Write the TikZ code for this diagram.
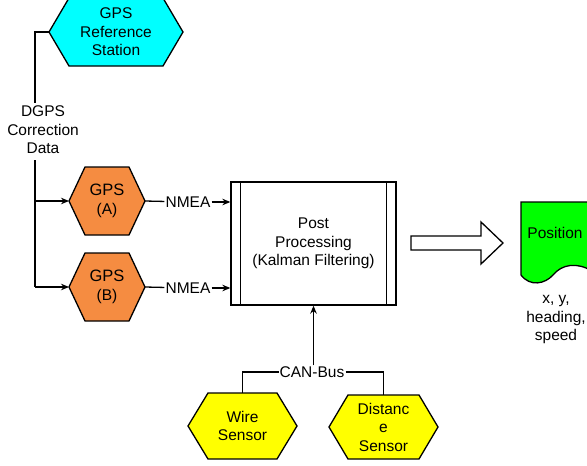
\documentclass[tikz,border=0pt]{standalone}
\usepackage{fontspec}
\setmainfont{Liberation Sans}
\usetikzlibrary{arrows.meta}
\definecolor{hexcyan}{RGB}{0,255,255}
\definecolor{hexorange}{RGB}{245,140,65}
\definecolor{hexyellow}{RGB}{255,255,0}
\definecolor{docgreen}{RGB}{0,255,0}
\tikzset{
  ln/.style={line width=1.3pt, line join=miter},
  arr/.style={ln, -{Stealth[length=8pt,width=6.5pt]}},
  txt/.style={font=\fontsize{15.5}{18.5}\selectfont, align=center, inner sep=1pt},
}
\newcommand{\hexbox}[8]{%
  \filldraw[ln, fill=#7] (#2-#4,#3) -- (#2-#4+#6,#3-#5) -- (#2+#4-#6,#3-#5) -- (#2+#4,#3)
     -- (#2+#4-#6,#3+#5) -- (#2-#4+#6,#3+#5) -- cycle;
  \node[txt] (#1) at (#2,#3) {#8};
  \coordinate (#1-l) at (#2-#4,#3);
  \coordinate (#1-r) at (#2+#4,#3);
  \coordinate (#1-t) at (#2,#3-#5);
}
\begin{document}
\begin{tikzpicture}[x=1pt,y=-1pt]
\useasboundingbox (0,0) rectangle (587,466);
% hexagons
\hexbox{ref}{116}{32}{67}{34}{20}{hexcyan}{GPS\\Reference\\Station}
\hexbox{gpsA}{107}{201}{38}{34}{16}{hexorange}{{\fontsize{16.5}{20}\selectfont GPS}\\(A)}
\hexbox{gpsB}{107}{287}{38}{34}{16}{hexorange}{{\fontsize{16.5}{20}\selectfont GPS}\\(B)}
\hexbox{wire}{242.5}{426}{54.5}{33}{20}{hexyellow}{Wire\\Sensor}
\hexbox{dist}{383.5}{427}{54.5}{32}{19}{hexyellow}{Distanc\\e\\Sensor}
% DGPS bus
\node[txt] (dgps) at (43,130) {DGPS\\Correction\\Data};
\coordinate (j0) at (35,32);
\coordinate (j1) at (35,103);
\coordinate (j2) at (35,160);
\coordinate (jA) at (35,201);
\coordinate (jB) at (35,287);
\draw[ln] (ref-l) -- (j0) -- (j1);
\draw[ln] (j2) -- (jB);
\draw[arr] (jA) -- (gpsA-l);
\draw[arr] (jB) -- (gpsB-l);
% post processing
\node[ln, draw, fill=white, minimum width=165pt, minimum height=123pt, txt] (pp) at (313.5,243.5)
  {Post\\Processing\\(Kalman Filtering)};
\draw[ln] ([xshift=10pt]pp.north west) -- ([xshift=10pt]pp.south west);
\draw[ln] ([xshift=-10pt]pp.north east) -- ([xshift=-10pt]pp.south east);
% NMEA
\node[txt] (nmeaA) at (188,202) {NMEA};
\node[txt] (nmeaB) at (188,288) {NMEA};
\draw[ln] (gpsA-r) -- (nmeaA);
\draw[ln] (gpsB-r) -- (nmeaB);
\draw[arr] (nmeaA) -- (nmeaA -| pp.west);
\draw[arr] (nmeaB) -- (nmeaB -| pp.west);
% CAN bus
\node[txt] (can) at (312,372) {CAN-Bus};
\draw[arr] (can.north -| pp.south) -- (pp.south);
\draw[ln] (can.west) -| (wire-t);
\draw[ln] (can.east) -| (dist-t);
% big hollow arrow
\draw[ln, fill=white] (411,236) -- (481,236) -- (481,222) -- (503,243) -- (481,264)
  -- (481,250) -- (411,250) -- cycle;
% position document
\filldraw[ln, fill=docgreen] (592,202) -- (521,202) -- (521,275)
  .. controls (530,287) and (545,284) .. (553,275)
  .. controls (562,264) and (577,262) .. (592,271) -- cycle;
\node[txt] (pos) at (555,233) {Position};
\node[txt] (posout) at (556,320) {x, y,\\heading,\\speed};
\end{tikzpicture}
\end{document}
